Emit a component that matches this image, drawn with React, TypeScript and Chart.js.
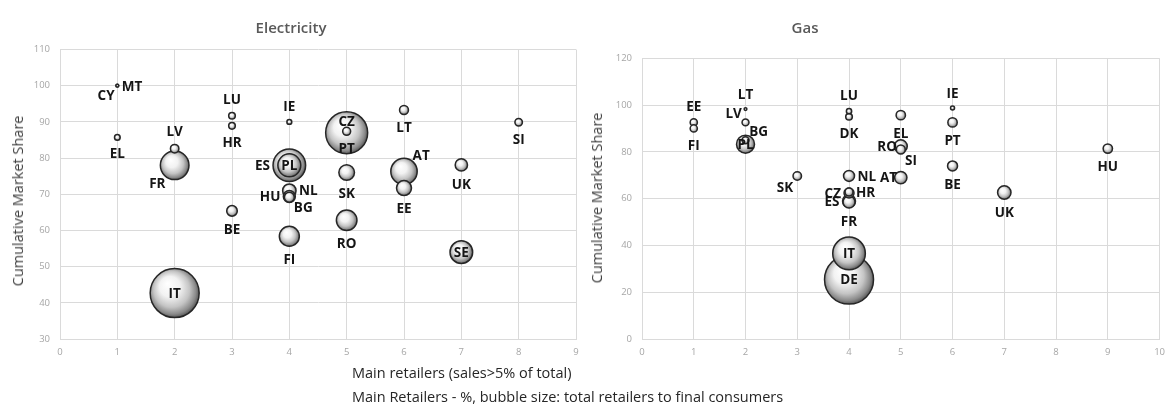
import React, { useEffect, useRef } from 'react';
import { Chart, registerables } from 'chart.js';
Chart.register(...registerables);

// ---------------- Electricity ----------------
const elecCountries = ['CY', 'MT', 'EL', 'LV', 'FR', 'IT', 'LU', 'HR', 'BE', 'IE', 'ES', 'PL', 'NL', 'HU', 'BG', 'FI', 'CZ', 'PT', 'SK', 'RO', 'LT', 'AT', 'EE', 'UK', 'SE', 'SI'];
const elecMainRetailers = [1, 1, 1, 2, 2, 2, 3, 3, 3, 4, 4, 4, 4, 4, 4, 4, 5, 5, 5, 5, 6, 6, 6, 7, 7, 8];
const elecMarketShare = [100, 100, 85.7, 82.6, 78, 42.7, 91.7, 88.9, 65.4, 90, 78, 78, 71, 69.4, 69.2, 58.4, 87, 87.4, 76, 62.8, 93.3, 76.3, 71.7, 78.1, 54, 89.9];
const elecBubbleSize = [2, 2, 8, 18, 205, 600, 11, 11, 28, 6, 266, 132, 45, 36, 25, 100, 441, 16, 61, 106, 20, 174, 56, 38, 128, 14];
const elecLabelPos = ['SW', 'E', 'S', 'N', 'SW', 'C', 'N', 'S', 'S', 'N', 'W', 'C', 'E', 'W', 'SE', 'S', 'CN', 'S', 'S', 'S', 'S', 'NE', 'S', 'S', 'C', 'S'];
const elecXRange = [0, 9];
const elecYRange = [30, 110];
const elecYStep = 10;

// ---------------- Gas ----------------
const gasCountries = ['EE', 'FI', 'LT', 'LV', 'BG', 'PL', 'SK', 'LU', 'DK', 'NL', 'HR', 'CZ', 'ES', 'FR', 'IT', 'DE', 'EL', 'RO', 'SI', 'AT', 'IE', 'PT', 'BE', 'UK', 'HU'];
const gasMainRetailers = [1, 1, 2, 2, 2, 2, 3, 4, 4, 4, 4, 4, 4, 4, 4, 4, 5, 5, 5, 5, 6, 6, 6, 7, 9];
const gasMarketShare = [92.6, 90, 98.3, 92.6, 85, 83.3, 69.7, 97.4, 95, 69.7, 62.8, 62.4, 59, 58.6, 36.6, 25.4, 95.7, 82.4, 81, 69, 98.8, 92.6, 74, 62.6, 81.4];
const gasBubbleSize = [13, 13, 2, 12, 12, 81, 18, 7, 11, 30, 16, 25, 42, 36, 266, 600, 22, 42, 20, 38, 4, 22, 25, 45, 22];
const gasLabelPos = ['N', 'S', 'N', 'NW', 'NE', 'C', 'SW', 'N', 'S', 'E', 'E', 'W', 'W', 'S', 'C', 'C', 'S', 'WI', 'SE', 'WI', 'N', 'S', 'S', 'S', 'S'];
const gasXRange = [0, 10];
const gasYRange = [0, 120];
const gasYStep = 20;

const FONT = '"Open Sans", "DejaVu Sans", sans-serif';

type Pt = { x: number; y: number; r: number; label: string; pos: string };

function makePoints(names: string[], xs: number[], ys: number[], sizes: number[], pos: string[]): Pt[] {
  return names
    .map((n, i) => ({ x: xs[i], y: ys[i], r: Math.sqrt(sizes[i]), label: n, pos: pos[i] }))
    .sort((a, b) => b.r - a.r);
}

const shade = (c: any) => {
  const chart = c.chart;
  const raw = c.raw as Pt;
  if (!raw || !chart.scales || !chart.scales.x || !chart.scales.y) return '#eeeeee';
  const x = chart.scales.x.getPixelForValue(raw.x);
  const y = chart.scales.y.getPixelForValue(raw.y);
  if (!isFinite(x) || !isFinite(y)) return '#eeeeee';
  const r = Math.max(raw.r, 1);
  const g = chart.ctx.createRadialGradient(x - r * 0.3, y - r * 0.4, 0, x - r * 0.05, y - r * 0.05, r * 1.05);
  g.addColorStop(0, '#ffffff');
  g.addColorStop(0.4, '#f2f2f2');
  g.addColorStop(0.7, '#c4c4c4');
  g.addColorStop(0.9, '#8a8a8a');
  g.addColorStop(1, '#5a5a5a');
  return g;
};

const labelPlugin = {
  id: 'bubbleLabels',
  afterDatasetsDraw(chart: any) {
    const ctx = chart.ctx;
    const ds = chart.data.datasets[0];
    const meta = chart.getDatasetMeta(0);
    ctx.save();
    ctx.font = `bold 13.5px ${FONT}`;
    ctx.fillStyle = '#151515';
    ctx.textAlign = 'center';
    ctx.textBaseline = 'middle';
    meta.data.forEach((el: any, i: number) => {
      const p = ds.data[i] as Pt;
      const { x, y } = el.getProps(['x', 'y'], true);
      const r = p.r;
      const w = ctx.measureText(p.label).width;
      let tx = x;
      let ty = y;
      switch (p.pos) {
        case 'N': ty = y - r - 13; break;
        case 'S': ty = y + r + 13; break;
        case 'E': tx = x + r + 3 + w / 2; break;
        case 'W': tx = x - r - 3 - w / 2; break;
        case 'WI': tx = x - r * 0.6 - w / 2; break;
        case 'NE': tx = x + r * 0.5 + 2 + w / 2; ty = y - r * 0.7 - 7; break;
        case 'NW': tx = x - r * 0.5 - 2 - w / 2; ty = y - r * 0.7 - 7; break;
        case 'SE': tx = x + r * 0.5 + 2 + w / 2; ty = y + r * 0.7 + 7; break;
        case 'SW': tx = x - r * 0.5 - 2 - w / 2; ty = y + r * 0.7 + 8; break;
        case 'CN': ty = y - 12; break;
        default: break;
      }
      ctx.fillText(p.label, tx, ty + 1);
    });
    ctx.restore();
  },
};

function buildConfig(points: Pt[], xr: number[], yr: number[], ystep: number, pad: any, yWidth: number): any {
  return {
    type: 'bubble',
    data: {
      datasets: [
        {
          data: points,
          backgroundColor: shade,
          borderColor: '#262626',
          borderWidth: 1.5,
          clip: false,
        },
      ],
    },
    plugins: [labelPlugin],
    options: {
      responsive: false,
      animation: false,
      devicePixelRatio: 1,
      events: [],
      layout: { padding: pad, autoPadding: false },
      plugins: { legend: { display: false }, tooltip: { enabled: false }, title: { display: false } },
      scales: {
        x: {
          type: 'linear',
          min: xr[0],
          max: xr[1],
          ticks: { stepSize: 1, color: '#a6a6a6', font: { family: FONT, size: 9.5 }, padding: 8 },
          grid: { color: '#dadada', lineWidth: 1, drawTicks: false },
          border: { color: '#dadada' },
          afterFit: (s: any) => { s.height = 70; },
        },
        y: {
          type: 'linear',
          min: yr[0],
          max: yr[1],
          ticks: { stepSize: ystep, color: '#a6a6a6', font: { family: FONT, size: 9.5 }, padding: 10 },
          grid: { color: '#dadada', lineWidth: 1, drawTicks: false },
          border: { color: '#dadada' },
          afterFit: (s: any) => { s.width = yWidth; },
        },
      },
    },
  };
}

export default function App() {
  const leftRef = useRef<HTMLCanvasElement>(null);
  const rightRef = useRef<HTMLCanvasElement>(null);

  useEffect(() => {
    const elec = makePoints(elecCountries, elecMainRetailers, elecMarketShare, elecBubbleSize, elecLabelPos);
    const gas = makePoints(gasCountries, gasMainRetailers, gasMarketShare, gasBubbleSize, gasLabelPos);
    const c1 = new Chart(leftRef.current as HTMLCanvasElement,
      buildConfig(elec, elecXRange, elecYRange, elecYStep, { left: 6, right: 14, top: 49.5, bottom: 0 }, 54));
    const c2 = new Chart(rightRef.current as HTMLCanvasElement,
      buildConfig(gas, gasXRange, gasYRange, gasYStep, { left: 0, right: 6, top: 58.3, bottom: 0 }, 42));
    c1.update();
    c2.update();
    return () => { c1.destroy(); c2.destroy(); };
  }, []);

  const txt: React.CSSProperties = { position: 'absolute', whiteSpace: 'nowrap', fontFamily: FONT };

  return (
    <div style={{ position: 'absolute', left: 0, top: 0, width: 1166, height: 409, background: '#ffffff', overflow: 'hidden' }}>
      <canvas ref={leftRef} width={590} height={409} style={{ position: 'absolute', left: 0, top: 0 }} />
      <canvas ref={rightRef} width={573} height={409} style={{ position: 'absolute', left: 600, top: 0 }} />
      <div style={{ ...txt, left: 291, top: 17, transform: 'translateX(-50%)', fontSize: 15, fontWeight: 600, color: '#595959', lineHeight: '20px' }}>Electricity</div>
      <div style={{ ...txt, left: 805, top: 17, transform: 'translateX(-50%)', fontSize: 15, fontWeight: 600, color: '#595959', lineHeight: '20px' }}>Gas</div>
      <div style={{ ...txt, left: 18, top: 201, transform: 'translate(-50%, -50%) rotate(-90deg)', fontSize: 14.5, color: '#404040', lineHeight: '18px' }}>Cumulative Market Share</div>
      <div style={{ ...txt, left: 597, top: 198, transform: 'translate(-50%, -50%) rotate(-90deg)', fontSize: 14.5, color: '#404040', lineHeight: '18px' }}>Cumulative Market Share</div>
      <div style={{ ...txt, left: 352, top: 364, fontSize: 14.5, color: '#262626', lineHeight: '18px' }}>Main retailers (sales&gt;5% of total)</div>
      <div style={{ ...txt, left: 352, top: 388, fontSize: 14.5, color: '#262626', lineHeight: '18px' }}>Main Retailers - %, bubble size: total retailers to final consumers</div>
    </div>
  );
}
